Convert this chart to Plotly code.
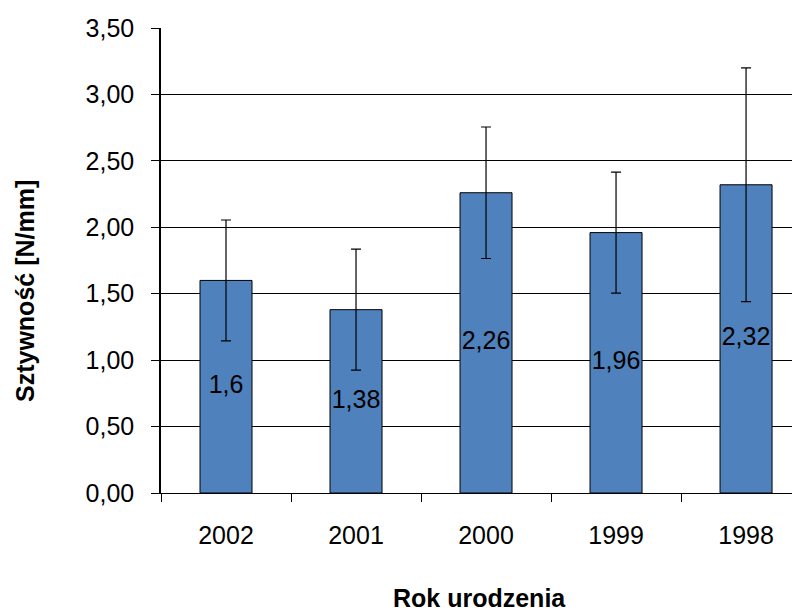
import plotly.graph_objects as go

categories = ["2002", "2001", "2000", "1999", "1998"]
values = [1.6, 1.38, 2.26, 1.96, 2.32]
errors = [0.455, 0.455, 0.495, 0.455, 0.88]
y_ticks = [0, 0.5, 1.0, 1.5, 2.0, 2.5, 3.0, 3.5]

FONT = "Liberation Sans, Arial, sans-serif"
FS = 25

# page body has an 8px margin, so the figure is sized/offset to compensate
OFF = 8
W, H = 800 - OFF, 613 - OFF
L, T, B = 161 - OFF, 28 - OFF, 120
PW, PH = W - L, H - T - B

fig = go.Figure()
fig.add_trace(go.Bar(
    x=categories, y=values, width=0.4,
    marker=dict(color="#4F81BD", line=dict(color="black", width=1)),
    error_y=dict(type="data", array=errors, visible=True, color="black", thickness=1.2, width=5),
    showlegend=False, hoverinfo="skip",
))
fig.add_trace(go.Scatter(
    x=categories, y=[v / 2 for v in values], mode="text",
    text=[str(v).replace(".", ",") for v in values],
    textfont=dict(family=FONT, size=FS, color="black"),
    textposition="middle center", showlegend=False, hoverinfo="skip",
))

fig.update_layout(
    width=W, height=H,
    margin=dict(l=L, r=0, t=T, b=B, autoexpand=False),
    paper_bgcolor="white", plot_bgcolor="white",
    separators=", ",
    font=dict(family=FONT, size=FS, color="black"),
    xaxis=dict(
        type="category", range=[-0.5, 4.415],
        showline=True, linecolor="black", linewidth=1,
        ticks="outside", ticklen=8, tickcolor="black", tickson="boundaries",
        showgrid=False, ticklabelstandoff=20, automargin=False,
    ),
    yaxis=dict(
        range=[0, 3.5], tickvals=y_ticks, tickformat=".2f",
        showline=True, linecolor="black", linewidth=1.5,
        ticks="outside", ticklen=8, tickcolor="black",
        showgrid=True, gridcolor="black", gridwidth=1,
        zeroline=False, ticklabelstandoff=12, automargin=False,
    ),
    annotations=[
        dict(text="<b>Sztywność [N/mm]</b>", textangle=-90, xref="paper", yref="paper",
             x=(25 - OFF - L) / PW, xanchor="center", y=(H - B - (291 - OFF)) / PH, yanchor="middle",
             showarrow=False, borderpad=0, font=dict(family=FONT, size=FS, color="black")),
        dict(text="<b>Rok urodzenia</b>", xref="paper", yref="paper",
             x=(479.5 - OFF - L) / PW, xanchor="center", y=-((598 - OFF) - (H - B)) / PH, yanchor="middle",
             showarrow=False, borderpad=0, font=dict(family=FONT, size=FS, color="black")),
    ],
)

fig.write_html("out.html")
